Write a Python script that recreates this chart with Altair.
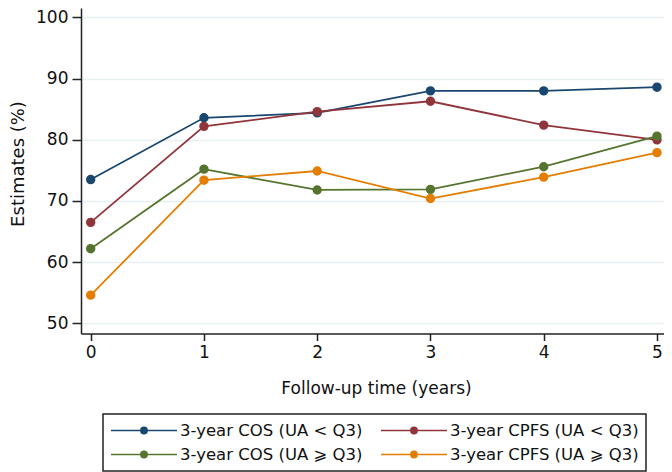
import altair as alt
import pandas as pd

years = [0, 1, 2, 3, 4, 5]
series_names = [
    "3-year COS (UA < Q3)",
    "3-year CPFS (UA < Q3)",
    "3-year COS (UA ⩾ Q3)",
    "3-year CPFS (UA ⩾ Q3)",
]
cos_low = [73.5, 83.6, 84.4, 88.0, 88.0, 88.6]
cpfs_low = [66.5, 82.2, 84.6, 86.3, 82.4, 80.0]
cos_high = [62.2, 75.2, 71.8, 71.9, 75.6, 80.6]
cpfs_high = [54.6, 73.4, 74.9, 70.4, 73.9, 77.9]
colors = ["#1a476f", "#90353b", "#55752f", "#e37e00"]
y_ticks = [50, 60, 70, 80, 90, 100]

rows = []
for name, vals in zip(series_names, [cos_low, cpfs_low, cos_high, cpfs_high]):
    for t, v in zip(years, vals):
        rows.append({"year": t, "value": v, "series": name})
df = pd.DataFrame(rows)

FONT = "DejaVu Sans"
sym_path = ("M-1,0L1,0M-0.095,0A0.095,0.095,0,1,0,0.095,0"
            "A0.095,0.095,0,1,0,-0.095,0Z")

legend = alt.Legend(
    title=None,
    orient="none",
    direction="horizontal",
    legendX=22,
    legendY=406,
    columns=2,
    symbolType=sym_path,
    symbolSize=4356,
    symbolStrokeWidth=1.6,
    clipHeight=19,
    labelOffset=2,
    labelLimit=400,
    labelFont=FONT,
    labelFontSize=16.5,
    labelColor="#111111",
    columnPadding=17,
    rowPadding=5,
    padding=7,
    strokeColor="#222222",
)

x = alt.X(
    "year:Q",
    scale=alt.Scale(domain=[-0.0856, 5.062], nice=False, zero=False),
    axis=alt.Axis(
        values=years, format="d", title="Follow-up time (years)",
        tickSize=7, labelPadding=4, grid=False,
        titleX=295, titleY=60, titleBaseline="alphabetic",
    ),
)
y = alt.Y(
    "value:Q",
    scale=alt.Scale(domain=[48.33, 101.55], nice=False, zero=False),
    axis=alt.Axis(
        values=y_ticks, title="Estimates (%)", tickSize=9, labelPadding=4,
        grid=True, titleX=-72, titleY=155.5, titleBaseline="top",
        titleFontSize=18,
    ),
)

cscale = alt.Scale(domain=series_names, range=colors)

lines = alt.Chart(df).mark_line(strokeWidth=1.8).encode(
    x=x, y=y,
    stroke=alt.Stroke("series:N", scale=cscale, legend=legend),
    detail="series:N",
)
points = alt.Chart(df).mark_point(filled=True, size=55, opacity=1).encode(
    x=x, y=y,
    fill=alt.Fill("series:N", scale=cscale, legend=legend),
    stroke=alt.Stroke("series:N", scale=cscale, legend=legend),
)

chart = alt.layer(lines, points).properties(
    width=583,
    height=325.5,
    autosize=alt.AutoSizeParams(type="none"),
    padding={"left": 73, "top": 0, "right": 0, "bottom": 138.5},
).configure_view(strokeWidth=0).configure_axis(
    labelFont=FONT, labelFontSize=17, labelColor="#111111",
    titleFont=FONT, titleFontSize=17, titleColor="#111111", titleFontWeight="normal",
    domainColor="#222222", domainWidth=1.5, tickColor="#222222", tickWidth=1.5,
    gridColor="#e6f0f1", gridWidth=1.5,
).configure_legend(strokeWidth=1.5)

chart.save("out.html", embed_options={"renderer": "svg", "actions": False})
